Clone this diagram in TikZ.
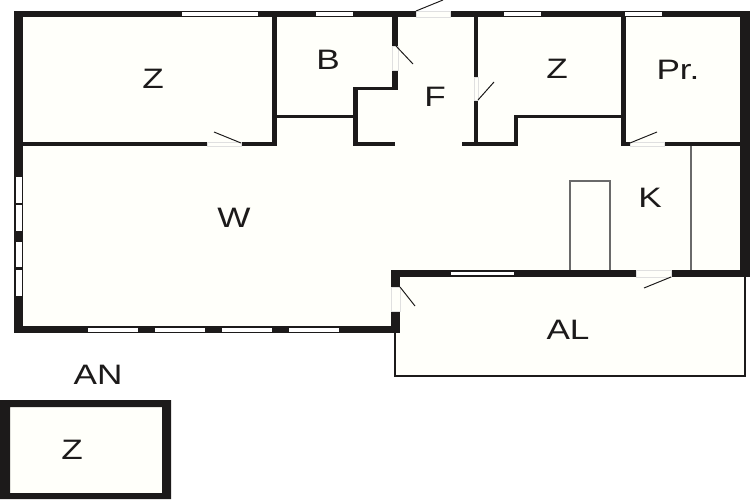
\documentclass[tikz,border=0pt]{standalone}
\usepackage{fontspec}
\setmainfont{Liberation Sans}
\definecolor{wallcolor}{HTML}{1C1A1A}
\definecolor{floorcolor}{HTML}{FFFFFA}
\definecolor{fixturecolor}{HTML}{6A6A6A}

\begin{document}
\begin{tikzpicture}[x=0.02cm,y=-0.02cm,
    wall/.style={fill=wallcolor},
    gap/.style={fill=floorcolor,draw=black!12,line width=0.3pt},
    pane/.style={fill=white},
    leaf/.style={draw=wallcolor,line width=0.55pt},
    fixture/.style={draw=fixturecolor,line width=0.7pt}]
\useasboundingbox (0,0) rectangle (750,500);

% floors
\fill[floorcolor] (14,11) rectangle (750,277);
\fill[floorcolor] (14,277) rectangle (400,333);
\fill[floorcolor] (395,277) rectangle (745,376);
\fill[floorcolor] (0,400) rectangle (171,499);

% outer walls
\fill[wall] (14,11) rectangle (416,17);
\fill[wall] (450,11) rectangle (750,17);
\fill[wall] (14,11) rectangle (23,333);
\fill[wall] (740,11) rectangle (750,277);
\fill[wall] (14,326) rectangle (400,333);
\fill[wall] (391,270) rectangle (636,277);
\fill[wall] (671,270) rectangle (750,277);
\fill[wall] (391,270) rectangle (400,287);
\fill[wall] (391,311) rectangle (400,333);

% inner walls
\fill[wall] (272,17) rectangle (277,146);
\fill[wall] (23,142) rectangle (207,146);
\fill[wall] (241,142) rectangle (277,146);
\fill[wall] (277,114.5) rectangle (353,118);
\fill[wall] (353,87) rectangle (358,146);
\fill[wall] (353,87) rectangle (398,90);
\fill[wall] (392,17) rectangle (398,46);
\fill[wall] (392,70) rectangle (398,90);
\fill[wall] (353,142) rectangle (395,146);
\fill[wall] (462,142) rectangle (518,146);
\fill[wall] (474,17) rectangle (478,77);
\fill[wall] (474,100) rectangle (478,146);
\fill[wall] (514,115) rectangle (518,146);
\fill[wall] (514,115) rectangle (626,118);
\fill[wall] (621,17) rectangle (626,146);
\fill[wall] (621,142) rectangle (630,146);
\fill[wall] (664,142) rectangle (740,146);

% balcony outline
\draw[wallcolor,line width=1.6pt] (395,333) -- (395,376) -- (745,376) -- (745,277);

% windows
\fill[pane] (182,12.5) rectangle (258,16);
\fill[pane] (316,12.5) rectangle (353,16);
\fill[pane] (504,12.5) rectangle (541,16);
\fill[pane] (625,12.5) rectangle (662,16);
\fill[pane] (16,177) rectangle (22,203);
\fill[pane] (16,205) rectangle (22,231);
\fill[pane] (16,242) rectangle (22,267);
\fill[pane] (16,270) rectangle (22,296);
\fill[pane] (88,327.5) rectangle (138,332);
\fill[pane] (155,327.5) rectangle (205,332);
\fill[pane] (222,327.5) rectangle (272,332);
\fill[pane] (289,327.5) rectangle (339,332);
\fill[pane] (451,272) rectangle (514,275);

% door openings
\path[gap] (416,11) rectangle (450,17);
\path[gap] (392,46) rectangle (398,70);
\path[gap] (474,77) rectangle (478,100);
\path[gap] (207,142) rectangle (241,146);
\path[gap] (630,142) rectangle (664,146);
\path[gap] (391,287) rectangle (400,311);
\path[gap] (636,270) rectangle (671,277);

% door leaves
\draw[leaf] (416,11) -- (443,0);
\draw[leaf] (396,46) -- (413,64);
\draw[leaf] (478,100) -- (494,82);
\draw[leaf] (241,143) -- (214,132);
\draw[leaf] (630,143) -- (657,132);
\draw[leaf] (400,287) -- (415,306);
\draw[leaf] (671,277) -- (644,288);

% kitchen fittings
\draw[fixture] (570,270) -- (570,181) -- (610,181) -- (610,270);
\draw[fixture] (691,146) -- (691,270);

% annex
\fill[wall,even odd rule] (0,400) rectangle (171,499) (10,407) rectangle (162,493);

\begin{scope}[every node/.style={text=wallcolor,font=\fontsize{16}{18}\selectfont,xscale=1.25,inner sep=0pt}]
    \node (room_z_west) at (153,79) {Z};
    \node (room_b) at (328,60) {B};
    \node (room_f) at (435,97) {F};
    \node (room_z_east) at (557,69) {Z};
    \node (room_pr) at (678,70) {Pr.};
    \node (room_w) at (234,218) {W};
    \node (room_k) at (650,198) {K};
    \node (room_al) at (568,330) {AL};
    \node (annex_title) at (98,375) {AN};
    \node (annex_z) at (72,450) {Z};
\end{scope}
\end{tikzpicture}
\end{document}
